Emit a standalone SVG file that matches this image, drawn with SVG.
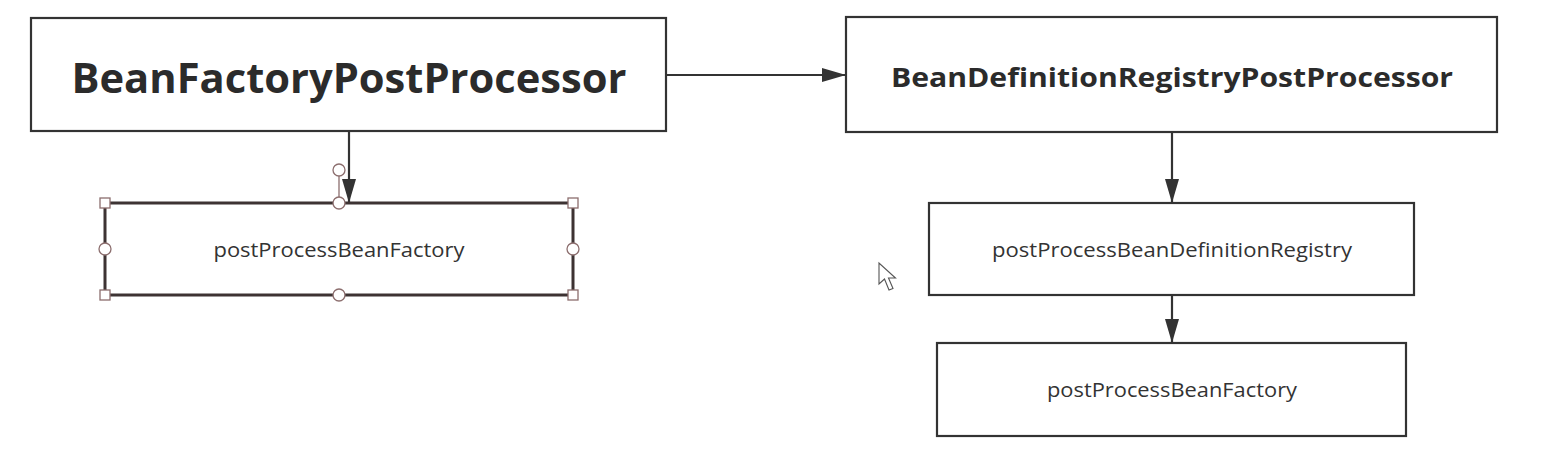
<svg xmlns="http://www.w3.org/2000/svg" width="1558" height="462" viewBox="0 0 1558 462">
<style>
.box{fill:#fff;stroke:#333;stroke-width:2.2}
.sel{fill:#fff;stroke:#3d3333;stroke-width:3}
.big{font-family:"Open Sans","Noto Sans",sans-serif;font-weight:bold;fill:#2b2b2b;text-anchor:middle;dominant-baseline:central}
.small{font-family:"Open Sans","Noto Sans",sans-serif;font-size:20px;fill:#333;text-anchor:middle;dominant-baseline:central}
.edge{stroke:#333;stroke-width:2.2;fill:none}
.hd{fill:#fff;stroke:#8c6e6e;stroke-width:1.3}
</style>
<defs>
<marker id="arr" viewBox="0 0 24 14" refX="24" refY="7" markerWidth="24" markerHeight="14" markerUnits="userSpaceOnUse" orient="auto">
<path d="M0,0 L24,7 L0,14 Z" fill="#333"/>
</marker>
</defs>
<rect width="1558" height="462" fill="#fff"/>
<g id="connectors">
<line class="edge" x1="349" y1="131" x2="349" y2="203" marker-end="url(#arr)"/>
<line class="edge" x1="666" y1="75" x2="846" y2="75" marker-end="url(#arr)"/>
<line class="edge" x1="1172" y1="132" x2="1172" y2="203" marker-end="url(#arr)"/>
<line class="edge" x1="1172" y1="295" x2="1172" y2="343" marker-end="url(#arr)"/>
</g>
<g id="node-bfpp">
<rect class="box" x="31" y="18" width="635" height="113"/>
<text class="big" x="349" y="76" font-size="42" textLength="555" lengthAdjust="spacingAndGlyphs">BeanFactoryPostProcessor</text>
</g>
<g id="node-bfpp-method">
<rect class="sel" x="105" y="203" width="468" height="92"/>
<text class="small" x="339" y="249" textLength="251" lengthAdjust="spacingAndGlyphs">postProcessBeanFactory</text>
<g id="selection-handles">
<line x1="339" y1="176" x2="339" y2="197" stroke="#8c6e6e" stroke-width="1.3"/>
<circle class="hd" cx="339" cy="170" r="6"/>
<rect class="hd" x="100" y="198" width="10" height="10"/>
<rect class="hd" x="568" y="198" width="10" height="10"/>
<rect class="hd" x="100" y="290" width="10" height="10"/>
<rect class="hd" x="568" y="290" width="10" height="10"/>
<circle class="hd" cx="339" cy="203" r="6"/>
<circle class="hd" cx="339" cy="295" r="6"/>
<circle class="hd" cx="105" cy="249" r="6"/>
<circle class="hd" cx="573" cy="249" r="6"/>
</g>
</g>
<g id="node-bdrpp">
<rect class="box" x="846" y="17" width="651" height="115"/>
<text class="big" x="1172" y="76" font-size="27" textLength="562" lengthAdjust="spacingAndGlyphs">BeanDefinitionRegistryPostProcessor</text>
</g>
<g id="node-bdrpp-registry">
<rect class="box" x="929" y="203" width="485" height="92"/>
<text class="small" x="1172" y="249" textLength="360" lengthAdjust="spacingAndGlyphs">postProcessBeanDefinitionRegistry</text>
</g>
<g id="node-bdrpp-factory">
<rect class="box" x="937" y="343" width="469" height="93"/>
<text class="small" x="1172" y="389" textLength="250" lengthAdjust="spacingAndGlyphs">postProcessBeanFactory</text>
</g>
<g id="cursor">
<path d="M879,263 L879,284 L884.5,279 L889,290 L893,288.5 L888.5,278 L895.5,278 Z" fill="#fff" stroke="#555" stroke-width="1.1" stroke-linejoin="miter"/>
</g>
</svg>
